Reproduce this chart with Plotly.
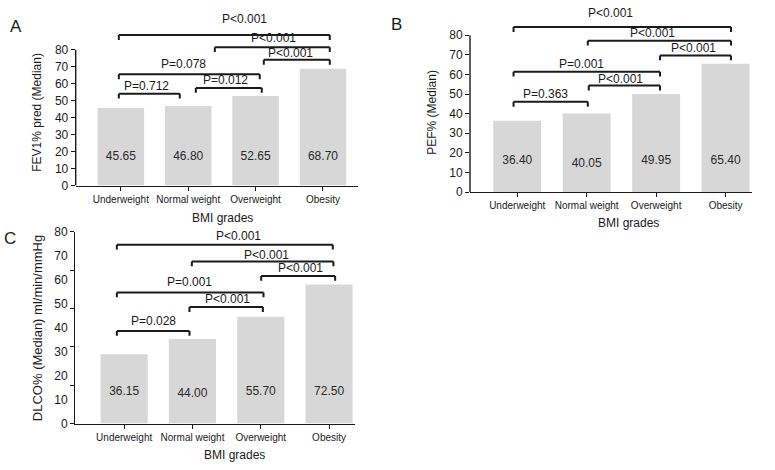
import plotly.graph_objects as go

# ---------------- data ----------------
categories = ["Underweight", "Normal weight", "Overweight", "Obesity"]
fev1_values = [45.65, 46.80, 52.65, 68.70]
pef_values = [36.40, 40.05, 49.95, 65.40]
dlco_values = [36.15, 44.00, 55.70, 72.50]

y_ticks_ab = [0, 10, 20, 30, 40, 50, 60, 70, 80]
c_tick_marks = [0, 20, 40, 60, 80, 100]
c_tick_labels = [0, 10, 20, 30, 40, 50, 60, 70, 80]

# significance brackets: (label, x start, x end, bracket level, label x, label y)
fev1_brackets = [
    ("P=0.712", -0.03, 0.875, 54.1, 0.386, 58.9),
    ("P=0.012", 1.113, 2.092, 57.5, 1.558, 62.3),
    ("P=0.078", -0.03, 2.062, 65.5, 0.924, 71.4),
    ("P<0.001", 2.122, 3.101, 74.1, 2.522, 78.3),
    ("P<0.001", 1.395, 3.101, 81.5, 2.27, 86.9),
    ("P<0.001", -0.03, 3.101, 88.6, 1.835, 98.3),
]
pef_brackets = [
    ("P=0.363", -0.053, 1.016, 46.0, 0.407, 50.2),
    ("P<0.001", 1.03, 2.056, 54.3, 1.486, 57.8),
    ("P=0.001", -0.053, 2.056, 61.4, 0.932, 65.2),
    ("P<0.001", 2.056, 3.078, 69.7, 2.543, 73.5),
    ("P<0.001", 1.016, 3.078, 77.2, 1.951, 80.9),
    ("P<0.001", -0.053, 3.078, 84.2, 1.344, 91.4),
]
dlco_brackets = [
    ("P=0.028", -0.107, 0.956, 48.2, 0.429, 53.3),
    ("P<0.001", 0.956, 2.031, 60.7, 1.52, 64.9),
    ("P=0.001", -0.107, 2.04, 68.3, 0.954, 73.8),
    ("P<0.001", 2.006, 3.089, 76.9, 2.584, 80.9),
    ("P<0.001", 0.991, 3.064, 84.5, 2.082, 87.7),
    ("P<0.001", -0.107, 3.055, 93.2, 1.674, 97.9),
]

fev1_label_y = [17, 17, 17, 17]
pef_label_y = [16, 14.4, 16, 16]
dlco_label_y = [16.5, 15.2, 16.5, 16.2]

# ---------------- style ----------------
FONT = "Liberation Sans, Arial, sans-serif"
BAR_COLOR = "#d7d7d7"
INK = "#1a1a1a"
W, H = 775, 470

fig = go.Figure()

panels = [
    dict(vals=fev1_values, ly=fev1_label_y, br=fev1_brackets, xa="x", ya="y",
         xd=(75.7, 358), y0px=184.0, ppu=1.75, ymax=92, xr=[-0.67, 3.52], tickdown=2.9),
    dict(vals=pef_values, ly=pef_label_y, br=pef_brackets, xa="x2", ya="y2",
         xd=(470, 752), y0px=190.7, ppu=2.02, ymax=88, xr=[-0.68, 3.38], tickdown=2.5),
    dict(vals=dlco_values, ly=dlco_label_y, br=dlco_brackets, xa="x3", ya="y3",
         xd=(75, 355), y0px=429.3, ppu=1.977, ymax=100, xr=[-0.72, 3.38], tickdown=2.5),
]


def xdom(a, b):
    return [a / W, b / W]


def ydom(y0px, ppu, ymax):
    return [(H - y0px) / H, (H - (y0px - ymax * ppu)) / H]


shapes = []
annotations = []

for i, p in enumerate(panels):
    fig.add_trace(go.Bar(
        x=categories, y=p["vals"], xaxis=p["xa"], yaxis=p["ya"],
        marker=dict(color=BAR_COLOR, line=dict(width=0)), width=0.69,
        showlegend=False, hoverinfo="skip",
    ))
    fig.add_trace(go.Scatter(
        x=categories, y=p["ly"], xaxis=p["xa"], yaxis=p["ya"], mode="text",
        text=[f"{v:.2f}" for v in p["vals"]],
        textfont=dict(family=FONT, size=12, color="#2a2a2a"),
        showlegend=False, hoverinfo="skip", cliponaxis=False,
    ))
    yd = ydom(p["y0px"], p["ppu"], p["ymax"])
    for (lab, x0, x1, yl, tx, ty) in p["br"]:
        d = p["tickdown"]
        for (ax0, ay0, ax1, ay1) in [(x0, yl, x1, yl), (x0, yl - d, x0, yl), (x1, yl - d, x1, yl)]:
            shapes.append(dict(type="line", xref=p["xa"], yref=p["ya"],
                               x0=ax0, y0=ay0, x1=ax1, y1=ay1,
                               line=dict(color=INK, width=2)))
        py = yd[0] + ty / p["ymax"] * (yd[1] - yd[0])
        annotations.append(dict(text=lab, x=tx, y=py, xref=p["xa"], yref="paper",
                                showarrow=False, xanchor="center", yanchor="middle",
                                font=dict(family=FONT, size=12, color=INK)))

# invisible trace to anchor the label-only overlay axis of panel C
fig.add_trace(go.Scatter(x=[categories[0]], y=[0], xaxis="x3", yaxis="y4", mode="markers",
                         marker=dict(opacity=0), showlegend=False, hoverinfo="skip"))

xaxis_common = dict(showline=True, linecolor=INK, linewidth=1.4, ticks="outside",
                    ticklen=4, tickwidth=1.3, tickcolor=INK, showgrid=False, zeroline=False,
                    tickfont=dict(family=FONT, size=10, color=INK), fixedrange=True)
yaxis_common = dict(ticks="outside", ticklen=4, tickwidth=1.3, tickcolor=INK,
                    showgrid=False, zeroline=False,
                    tickfont=dict(family=FONT, size=12, color=INK), fixedrange=True)

layout_axes = {}
names = [("xaxis", "yaxis", "y"), ("xaxis2", "yaxis2", "y2"), ("xaxis3", "yaxis3", "y3")]
for p, (xn, yn, yid) in zip(panels, names):
    layout_axes[xn] = dict(xaxis_common, domain=xdom(*p["xd"]), range=p["xr"],
                           anchor=yid, type="category")
ax_ids = ["x", "x2", "x3"]

for idx in (0, 1):
    p = panels[idx]
    yn = names[idx][1]
    layout_axes[yn] = dict(yaxis_common, domain=ydom(p["y0px"], p["ppu"], p["ymax"]),
                           range=[0, p["ymax"]], tickvals=y_ticks_ab, showline=False,
                           anchor=ax_ids[idx])
    shapes.append(dict(type="line", xref=f"{ax_ids[idx]} domain", yref=p["ya"],
                       x0=0, x1=0, y0=0, y1=80, line=dict(color=INK, width=1.4)))

pc = panels[2]
layout_axes["yaxis3"] = dict(yaxis_common, domain=ydom(pc["y0px"], pc["ppu"], pc["ymax"]),
                             range=[0, 100], tickvals=c_tick_marks, showticklabels=False,
                             showline=True, linecolor=INK, linewidth=1.4, anchor="x3")
layout_axes["yaxis4"] = dict(yaxis_common, overlaying="y3", anchor="x3", side="left",
                             range=[0, 80], tickvals=c_tick_labels,
                             tickcolor="rgba(0,0,0,0)", showline=False)


def txt(t, x, y, size=12, angle=0):
    return dict(text=t, x=x / W, y=1 - y / H, xref="paper", yref="paper", showarrow=False,
                xanchor="center", yanchor="middle", textangle=angle,
                font=dict(family=FONT, size=size, color=INK))


annotations += [
    txt("FEV1% pred (Median)", 37, 109, 12, -90),
    txt("PEF% (Median)", 432, 108, 12, -90),
    txt("DLCO% (Median) ml/min/mmHg", 37, 331, 13, -90),
    txt("BMI grades", 222.7, 217.7, 12),
    txt("BMI grades", 628.3, 222.7, 12),
    txt("BMI grades", 234.5, 461.7, 12),
    txt("A", 16, 20, 17),
    txt("B", 396, 18, 17),
    txt("C", 10, 239, 17),
]

fig.update_layout(
    width=W, height=H, margin=dict(l=0, r=0, t=0, b=0),
    paper_bgcolor="white", plot_bgcolor="white",
    shapes=shapes, annotations=annotations, bargap=0.3,
    font=dict(family=FONT, color=INK),
    **layout_axes,
)

fig.write_html("out.html", config={"displayModeBar": False},
               post_script="document.body.style.margin='0';document.body.style.overflow='hidden';")
